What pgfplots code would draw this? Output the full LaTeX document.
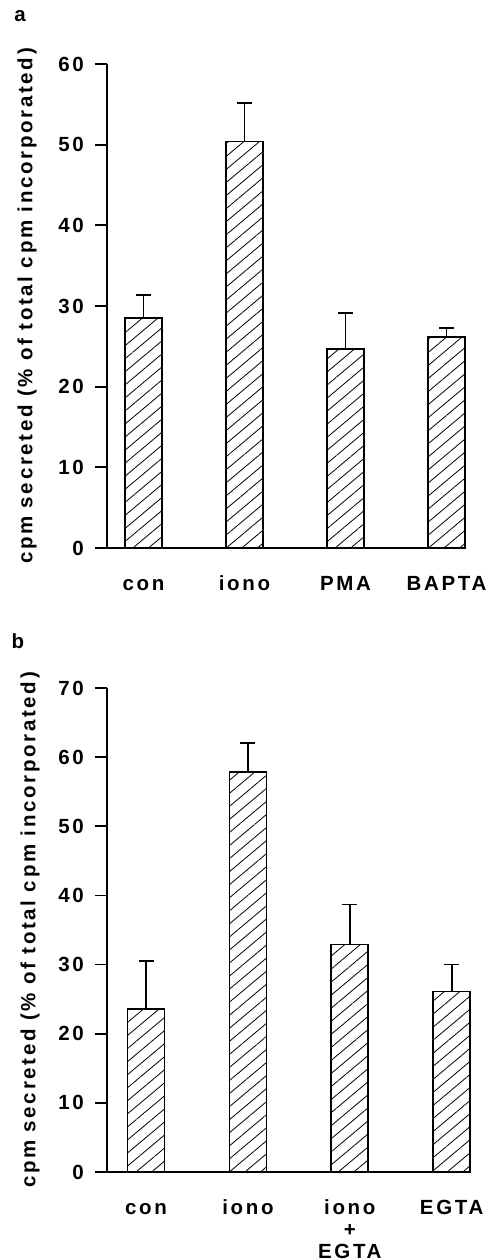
\documentclass[border=0pt]{standalone}
\usepackage{fontspec}
\setmainfont{Liberation Sans}[LetterSpace=13, BoldFont={Liberation Sans Bold}]
\usepackage{pgfplots}
\pgfplotsset{compat=1.18}
\usetikzlibrary{patterns.meta}

\newcommand{\lblfont}{\bfseries\fontsize{20.5}{22}\selectfont}

\pgfplotsset{
  panel/.style={
    scale only axis,
    height=484pt,
    axis x line=bottom, axis y line=left,
    axis line style={line width=1.8pt, -, black},
    ymin=0,
    tick align=outside,
    major tick length=12pt,
    ytick style={line width=1.8pt, black},
    xtick style={draw=none},
    xtick={0,1,2,3},
    ybar, bar width=37pt,
    clip=false,
    /pgf/number format/assume math mode=true,
    tick label style={font=\lblfont},
    yticklabel style={anchor=east, inner sep=0pt, xshift=-11pt},
    xticklabel style={anchor=base, inner sep=0pt, yshift=-30pt},
    ylabel={cpm secreted (\% of total cpm incorporated)},
    ylabel style={anchor=center, font=\lblfont},
  },
  barstyle/.style={
    draw=black, line width=1.8pt, bar shift=0pt,
    pattern={Lines[angle=40, distance=10pt, line width=0.8pt]},
    error bars/.cd, y dir=plus, y explicit,
    error bar style={line width=1.8pt, black, solid},
    error mark options={rotate=90, mark size=7.5pt, line width=1.8pt, black},
  },
}

\begin{document}
\begin{tikzpicture}
\useasboundingbox (0,0) rectangle (488pt,-1260pt);

% panel a
\begin{axis}[panel,
  at={(107pt,-548pt)}, anchor=south west,
  width=358pt,
  xmin=-0.361, xmax=3.183,
  ymax=60, ytick={0,10,...,60},
  xticklabels={con, iono, PMA, BAPTA},
  ylabel style={at={(axis description cs:-0.2235,0.5)}},
]
\addplot[barstyle] coordinates {
  (0,28.5) +- (0,2.9)
  (1,50.4) +- (0,4.8)
  (2,24.7) +- (0,4.4)
  (3,26.2) +- (0,1.1)
};
\end{axis}

% panel b
\begin{axis}[panel,
  at={(107pt,-1172pt)}, anchor=south west,
  width=363pt,
  xmin=-0.383, xmax=3.18,
  ymax=70, ytick={0,10,...,70},
  xticklabels={con, iono, {\setlength{\tabcolsep}{0pt}\begin{tabular}[t]{c}iono\\+\\EGTA\end{tabular}}, EGTA},
  ylabel style={at={(axis description cs:-0.212,0.5)}},
]
\addplot[barstyle] coordinates {
  (0,23.6) +- (0,6.9)
  (1,57.9) +- (0,4.2)
  (2,32.9) +- (0,5.8)
  (3,26.1) +- (0,3.9)
};
\end{axis}

\node[font=\lblfont] at (20pt,-16pt) {a};
\node[font=\lblfont] at (18pt,-641pt) {b};
\end{tikzpicture}
\end{document}
